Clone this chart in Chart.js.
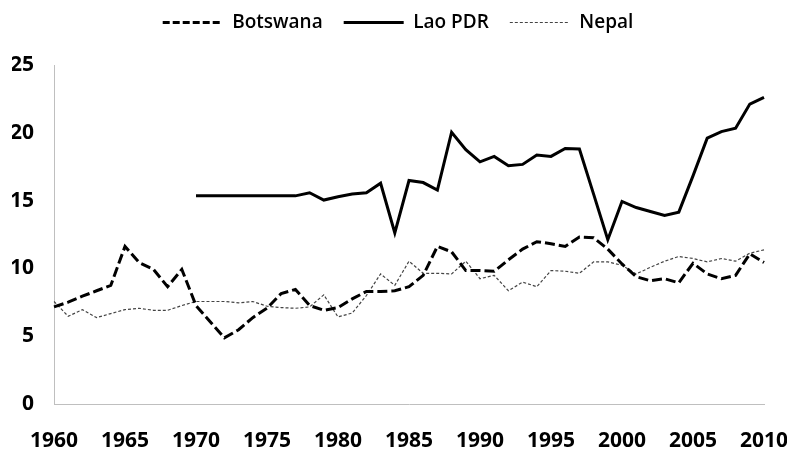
<!DOCTYPE html>
<html>
<head>
<meta charset="utf-8">
<script src="https://cdn.jsdelivr.net/npm/chart.js@4"></script>
<style>
  html, body { margin: 0; padding: 0; background: #fff; }
  #wrap { width: 787px; height: 452px; }
</style>
</head>
<body>
<div id="wrap"><canvas id="chart" width="787" height="452"></canvas></div>
<script>
const years = [];
for (let y = 1960; y <= 2010; y++) years.push(y);

const botswana = [7.16, 7.51, 7.95, 8.35, 8.75, 11.62, 10.43, 9.93, 8.65, 9.93,
  7.26, 6.07, 4.88, 5.48, 6.37, 7.06, 8.15, 8.45, 7.26, 6.91,
  7.11, 7.75, 8.3, 8.3, 8.35, 8.65, 9.49, 11.62, 11.22, 9.84,
  9.84, 9.79, 10.63, 11.42, 11.97, 11.82, 11.62, 12.31, 12.26, 11.42,
  10.33, 9.39, 9.09, 9.24, 8.94, 10.38, 9.59, 9.24, 9.49, 11.07, 10.43];

const lao = [null, null, null, null, null, null, null, null, null, null,
  15.35, 15.35, 15.35, 15.35, 15.35, 15.35, 15.35, 15.35, 15.58, 15.04,
  15.29, 15.48, 15.58, 16.28, 12.61, 16.48, 16.33, 15.78, 20.04, 18.76,
  17.86, 18.26, 17.57, 17.67, 18.36, 18.26, 18.85, 18.8, 15.48, 12.12,
  14.94, 14.49, 14.2, 13.9, 14.15, 16.82, 19.6, 20.09, 20.34, 22.12, 22.62];

const nepal = [7.56, 6.47, 6.96, 6.37, 6.67, 6.96, 7.06, 6.91, 6.91, 7.26,
  7.56, 7.56, 7.56, 7.46, 7.56, 7.21, 7.11, 7.06, 7.16, 8.05,
  6.42, 6.71, 8.0, 9.59, 8.75, 10.53, 9.64, 9.64, 9.59, 10.53,
  9.24, 9.49, 8.35, 8.99, 8.65, 9.84, 9.79, 9.64, 10.48, 10.48,
  10.23, 9.59, 10.08, 10.53, 10.88, 10.73, 10.48, 10.73, 10.53, 11.12, 11.37];

const yTicks = [0, 5, 10, 15, 20, 25];

const tickFont = { family: "'Open Sans', sans-serif", size: 21, weight: 'bold' };

const ctx = document.getElementById('chart').getContext('2d');
new Chart(ctx, {
  type: 'line',
  data: {
    labels: years,
    datasets: [{
      label: 'Botswana',
      data: botswana,
      borderColor: '#000',
      borderWidth: 3,
      borderDash: [10, 4],
      pointRadius: 0,
      tension: 0
    }, {
      label: 'Lao PDR',
      data: lao,
      borderColor: '#000',
      borderWidth: 3,
      pointRadius: 0,
      tension: 0
    }, {
      label: 'Nepal',
      data: nepal,
      borderColor: '#444',
      borderWidth: 1.2,
      borderDash: [3, 2],
      pointRadius: 0,
      tension: 0
    }]
  },
  options: {
    responsive: false,
    animation: false,
    layout: {
      padding: { top: -8, right: 3, bottom: 0, left: 12 }
    },
    plugins: {
      legend: {
        position: 'top',
        weight: 3000,
        labels: {
          usePointStyle: true,
          pointStyle: 'line',
          pointStyleWidth: 60,
          boxHeight: 6,
          color: '#000',
          padding: 21,
          font: { family: "'Open Sans', sans-serif", size: 19, weight: '600' },
          generateLabels: (chart) =>
            Chart.defaults.plugins.legend.labels.generateLabels(chart).map((item, i) => {
              const ds = chart.data.datasets[i];
              item.lineDash = i === 0 ? [7, 3] : (ds.borderDash || []);
              item.lineWidth = ds.borderWidth;
              item.strokeStyle = ds.borderColor;
              return item;
            })
        }
      },
      // empty title used only as a spacer between legend and plot
      title: {
        display: true,
        text: ' ',
        font: { size: 10, lineHeight: 1 },
        padding: { top: 0, bottom: 13 }
      },
      tooltip: { enabled: false }
    },
    scales: {
      x: {
        afterFit: (scale) => {
          scale.height = 48;
          scale.paddingLeft = 0;
          scale.paddingRight = 23;
        },
        grid: { display: false, drawTicks: false },
        border: { display: true, color: '#bfbfbf', width: 1 },
        ticks: {
          autoSkip: false,
          maxRotation: 0,
          padding: 24,
          color: '#000',
          font: tickFont,
          callback: (v, i) => (years[i] % 5 === 0 ? String(years[i]) : '')
        }
      },
      y: {
        min: 0,
        max: 25,
        afterFit: (scale) => { scale.width = 42; },
        afterBuildTicks: (scale) => { scale.ticks = yTicks.map(v => ({ value: v })); },
        grid: { display: false, drawTicks: false },
        border: { display: true, color: '#bfbfbf', width: 1 },
        ticks: {
          padding: 20,
          color: '#000',
          font: tickFont
        }
      }
    }
  }
});
</script>
</body>
</html>
